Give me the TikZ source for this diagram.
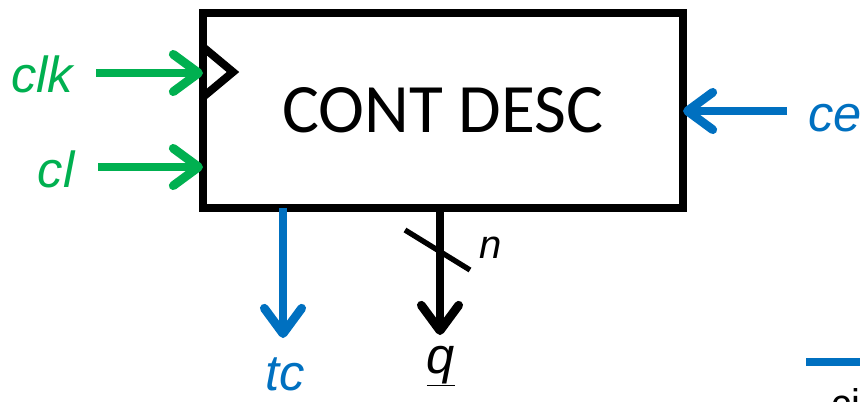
\documentclass[tikz,border=0pt]{standalone}
\usepackage{fontspec}
\setmainfont{Liberation Sans}
\newfontfamily\boxfont{Carlito}
\usetikzlibrary{arrows.meta}
\definecolor{sgreen}{HTML}{00B050}
\definecolor{sblue}{HTML}{0070C0}
\begin{document}
\begin{tikzpicture}[x=0.75pt,y=-0.75pt,
 block/.style={draw=black,line width=6pt,minimum width=360pt,minimum height=146.25pt,inner sep=0pt,outer sep=0pt,font=\boxfont\fontsize{52}{52}\selectfont},
 lbl/.style={inner sep=0pt,font=\itshape\fontsize{38}{38}\selectfont},
 sig/.style={line width=6.6pt,-{Straight Barb[length=19pt,width=28pt,round]}},
]
\useasboundingbox (0,0) rectangle (860,401);
\clip (0,0) rectangle (860,401);
\node[block] (box) at (443,110.5) {CONT DESC};
\coordinate (ckA) at (203,47);
\coordinate (ckB) at (233,72);
\coordinate (ckC) at (203,97);
\draw[line width=6pt,line join=miter] (ckA) -- (ckB) -- (ckC);
\node[lbl,text=sgreen,anchor=base] (clk) at (42,92) {clk};
\node[lbl,text=sgreen,anchor=base] (cl) at (56,187) {cl};
\node[lbl,text=sblue,anchor=base west] (ce) at (808,131) {ce};
\node[lbl,text=sblue,anchor=base] (tc) at (285,390) {tc};
\node[lbl,anchor=base] (q) at (441,373) {\underline{q}};
\node[lbl,anchor=base,font=\itshape\fontsize{30}{30}\selectfont] (n) at (491,258) {n};
\node[anchor=base west,font=\fontsize{30}{30}\selectfont,inner sep=0pt] (ci) at (831,417) {ci};
\coordinate (clkS) at (96,73);
\draw[sig,sgreen] (clkS) -- (clkS -| box.west);
\coordinate (clS) at (98,167);
\draw[sig,sgreen] (clS) -- (clS -| box.west);
\coordinate (ceS) at (787,111);
\draw[sig,sblue] (ceS) -- (ceS -| box.east);
\coordinate (tcE) at (283,338);
\draw[sig,sblue] (tcE |- box.south) -- (tcE);
\coordinate (qE) at (440,335);
\draw[sig,black] (qE |- box.south) -- (qE);
\coordinate (slA) at (405,230);
\coordinate (slB) at (470,270);
\draw[line width=4pt] (slA) -- (slB);
\coordinate (blA) at (806,362);
\coordinate (blB) at (860,362);
\draw[sblue,line width=6.5pt] (blA) -- (blB);
\end{tikzpicture}
\end{document}
